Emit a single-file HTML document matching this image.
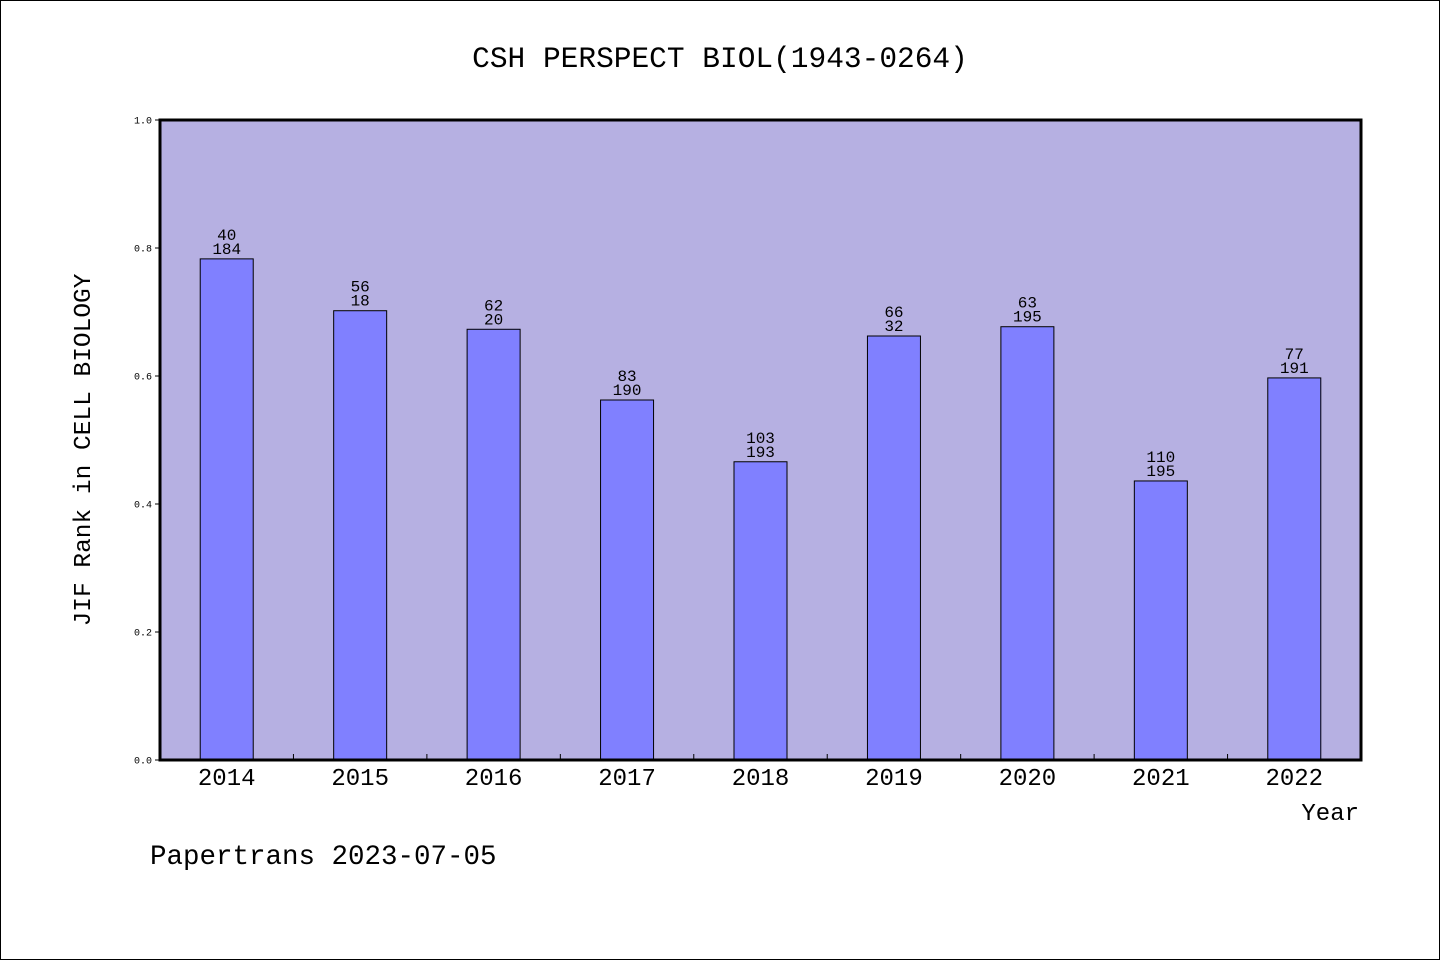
<!DOCTYPE html>
<html><head><meta charset="utf-8"><style>
body{margin:0;background:#fff}
svg{display:block}
text{font-family:"Liberation Mono","WenQuanYi Zen Hei",monospace;fill:#000}
</style></head><body>
<svg id="chart" width="1440" height="960">
<rect x="0.5" y="0.5" width="1439" height="959" fill="#fff" stroke="#000"/>
<text x="720" y="67" font-size="29.5" text-anchor="middle">CSH PERSPECT BIOL(1943-0264)</text>
<rect x="160" y="120" width="1201" height="640" fill="#b6b0e2"/>
<g id="bars"></g>
<g id="ticks"></g>
<rect x="160" y="120" width="1201" height="640" fill="none" stroke="#000" stroke-width="3"/>
<text transform="translate(90,450) rotate(-90)" font-size="24.5" text-anchor="middle">JIF Rank in CELL BIOLOGY</text>
<text x="1359" y="820" font-size="24" text-anchor="end">Year</text>
<text x="150" y="864" font-size="27.5">Papertrans 2023-07-05</text>
</svg>
<script>
const categories=["2014","2015","2016","2017","2018","2019","2020","2021","2022"];
const values=[0.783,0.702,0.673,0.5625,0.466,0.6625,0.677,0.436,0.597];
const topLabels=["40","56","62","83","103","66","63","110","77"];
const bottomLabels=["184","18","20","190","193","32","195","195","191"];
const yTicks=[0,0.2,0.4,0.6,0.8,1.0];
const ns="http://www.w3.org/2000/svg";
const X0=160,X1=1361,Y0=760,Y1=120;
const step=(X1-X0)/categories.length;
const xc=i=>X0+step*(i+0.5);
const y=v=>Y0-(v)*(Y0-Y1);
const bw=53;
function mk(tag,attrs,parent){const e=document.createElementNS(ns,tag);for(const k in attrs)e.setAttribute(k,attrs[k]);parent.appendChild(e);return e;}
const bars=document.getElementById('bars'),ticks=document.getElementById('ticks');
categories.forEach((c,i)=>{
  const r=mk('rect',{x:xc(i)-bw/2,y:y(values[i]),width:bw,height:Y0-y(values[i]),fill:'#8080ff',stroke:'#000','stroke-width':1},bars);
  
  
  const t1=mk('text',{x:xc(i),y:y(values[i])-19,'font-size':16,'text-anchor':'middle'},bars);t1.textContent=topLabels[i];
  
  
  const t2=mk('text',{x:xc(i),y:y(values[i])-5,'font-size':16,'text-anchor':'middle'},bars);t2.textContent=bottomLabels[i];
  
  
  const xl=mk('text',{x:xc(i),y:785,'font-size':24,'text-anchor':'middle'},ticks);xl.textContent=c;
  
  
  if(i>0){const l=mk('line',{x1:X0+step*i,x2:X0+step*i,y1:Y0,y2:Y0-6,stroke:'#000'},ticks);
    
    }
});
yTicks.forEach(v=>{
  const l=mk('line',{x1:X0-5,x2:X0,y1:y(v),y2:y(v),stroke:'#000'},ticks);
  
  
  const t=mk('text',{x:X0-8,y:y(v)+3.5,'font-size':10,'text-anchor':'end'},ticks);t.textContent=v.toFixed(1);
  
  
});
</script>
</body></html>
